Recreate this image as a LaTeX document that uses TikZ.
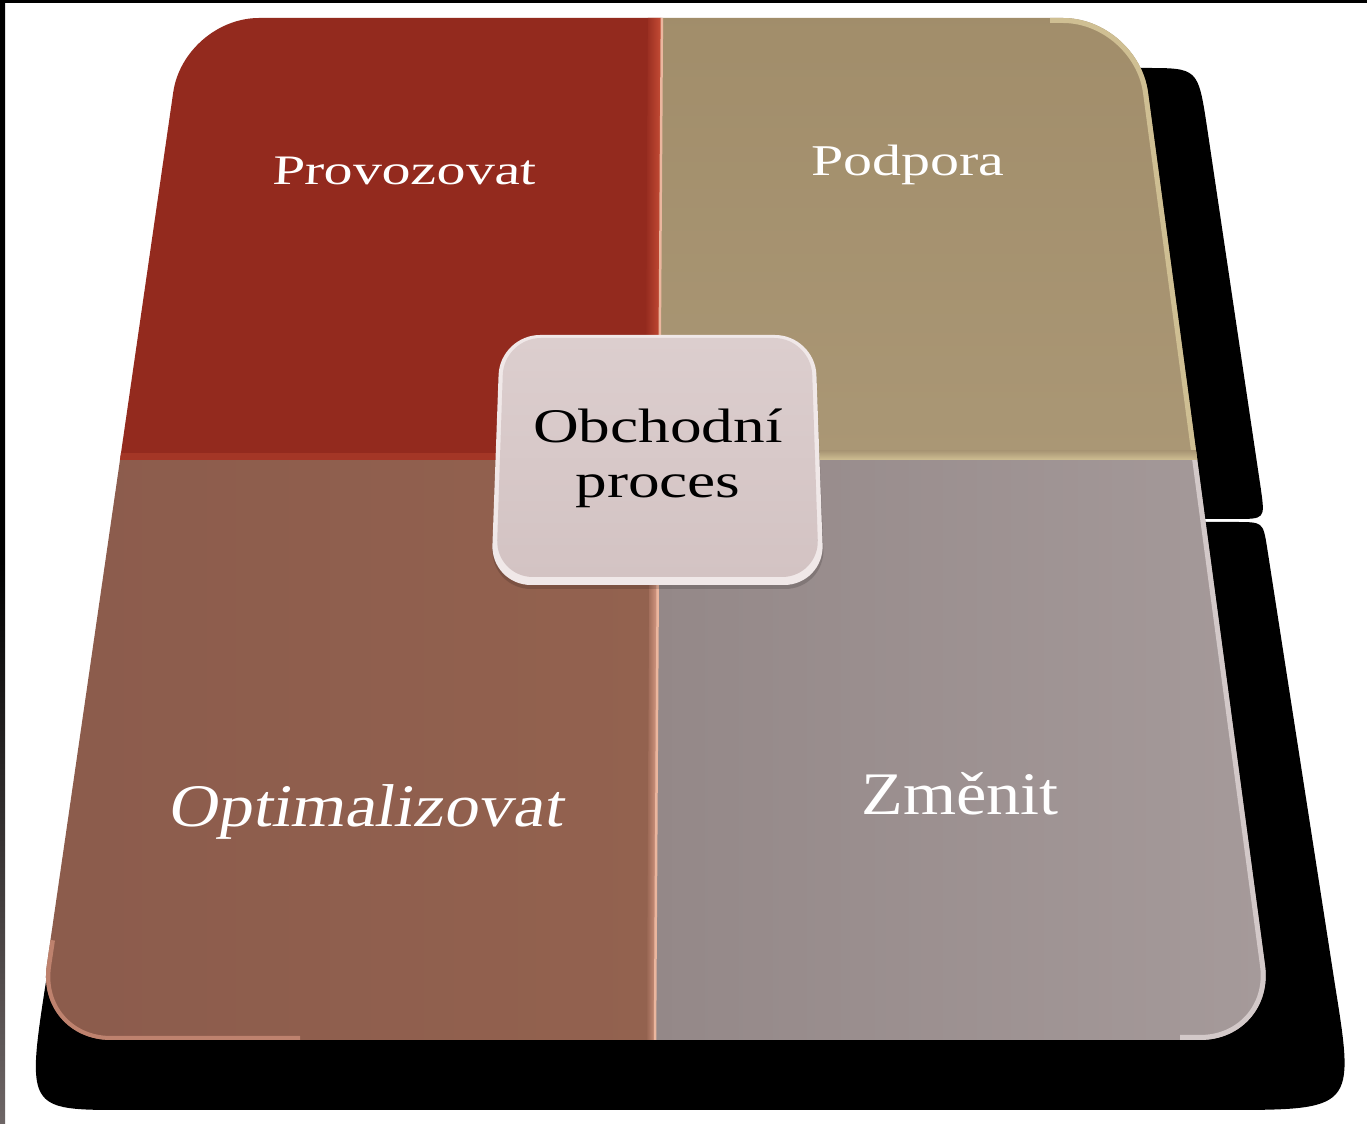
\documentclass[tikz,border=0pt]{standalone}
\usepackage{fontspec}
\setmainfont{Liberation Serif}

\definecolor{edgegray}{HTML}{6E6666}
\definecolor{provred}{HTML}{932A1E}
\definecolor{provbevel}{HTML}{C44C35}
\definecolor{divlight}{HTML}{EBB69E}
\definecolor{podtop}{HTML}{A18D6A}
\definecolor{podbot}{HTML}{AA9775}
\definecolor{podrim}{HTML}{CFBF93}
\definecolor{optleft}{HTML}{8B5B4C}
\definecolor{optright}{HTML}{93624F}
\definecolor{optrim}{HTML}{BE826E}
\definecolor{optbevel}{HTML}{D99C86}
\definecolor{zmenleft}{HTML}{948888}
\definecolor{zmenright}{HTML}{A99E9E}
\definecolor{zmenrim}{HTML}{D3C9C9}
\definecolor{procrim}{HTML}{F0E8E8}
\definecolor{proctop}{HTML}{DCCECE}
\definecolor{procbot}{HTML}{D3C3C3}

\begin{document}
\begin{tikzpicture}[thick]
    \def\U{*0.02cm}
    \tikzset{
      boardclip/.style={rounded corners=1.5cm},
      quadlabel/.style={text=white,anchor=base,transform shape,inner sep=0pt},
    }
    \useasboundingbox (0,0) rectangle (1367\U,-1124\U);
    \fill[white] (0,0) rectangle (1367\U,-1124\U);
    \fill[black] (0,0) rectangle (1367\U,-3\U);
    \shade[top color=black,bottom color=edgegray,middle color=black] (0,0) rectangle (5\U,-1124\U);
    \path
      coordinate (tl) at (184\U,-18\U)
      coordinate (tr) at (1138\U,-18\U)
      coordinate (br) at (1275\U,-1040\U)
      coordinate (bl) at (36\U,-1040\U);
    % stin
    \fill[black] (1000\U,-68\U) -- (1145\U,-68\U) .. controls (1198\U,-68\U) .. (1207\U,-127\U)
      -- (1261\U,-490\U) .. controls (1265\U,-519\U) .. (1235\U,-519\U) -- (1000\U,-519\U) -- cycle;
    \fill[black] (900\U,-522\U) -- (1235\U,-522\U) .. controls (1263\U,-522\U) .. (1267\U,-547\U)
      -- (1335\U,-985\U) .. controls (1355\U,-1110\U) .. (1220\U,-1110\U)
      -- (125\U,-1110\U) .. controls (26\U,-1110\U) .. (47\U,-975\U) -- (113\U,-522\U) -- cycle;
    \begin{scope}
      \clip[boardclip] (tl) -- (tr) -- (br) -- (bl) -- cycle;
      \fill[provred] (0,0) -- (662\U,0) -- (659\U,-460\U) -- (0,-460\U) -- cycle;
      \shade[top color=podtop,bottom color=podbot] (662\U,0) -- (1400\U,0) -- (1400\U,-460\U) -- (659\U,-460\U) -- cycle;
      \shade[left color=optleft,right color=optright] (0,-460\U) -- (659\U,-460\U) -- (654\U,-1124\U) -- (0,-1124\U) -- cycle;
      \shade[left color=zmenleft,right color=zmenright] (659\U,-460\U) -- (1400\U,-460\U) -- (1400\U,-1124\U) -- (654\U,-1124\U) -- cycle;
      % okraje
      \begin{scope}
        \clip (662\U,0) -- (1400\U,0) -- (1400\U,-460\U) -- (659\U,-460\U) -- cycle;
        \draw[line width=10\U,podrim,boardclip] (1050\U,-18\U) -- (tr) -- (br);
      \end{scope}
      \begin{scope}
        \clip (659\U,-460\U) -- (1400\U,-460\U) -- (1400\U,-1124\U) -- (654\U,-1124\U) -- cycle;
        \draw[line width=10\U,zmenrim,boardclip] (tr) -- (br) -- (1180\U,-1040\U);
      \end{scope}
      \begin{scope}
        \clip (0,-460\U) -- (659\U,-460\U) -- (654\U,-1124\U) -- (0,-1124\U) -- cycle;
        \draw[line width=8\U,optrim,boardclip] (300\U,-1040\U) -- (bl) -- (51\U,-940\U);
      \end{scope}
      \fill[provbevel!35!provred] (0,-453\U) rectangle (659\U,-460\U);
      \shade[top color=podbot,bottom color=podrim] (659\U,-451\U) rectangle (1400\U,-460\U);
      \shade[left color=provred,right color=provbevel] (648\U,0) -- (661\U,0) -- (658\U,-460\U) -- (645\U,-460\U) -- cycle;
      \draw[line width=2.5\U,divlight] (662\U,0) -- (659\U,-460\U);
      \shade[left color=optright,right color=optbevel] (650\U,-460\U) -- (658\U,-460\U) -- (654\U,-1124\U) -- (646\U,-1124\U) -- cycle;
      \draw[line width=2.5\U,divlight] (658.5\U,-460\U) -- (654.5\U,-1124\U);
    \end{scope}
    % stredni pole
    \fill[black,opacity=.15,rounded corners=0.8cm] (500\U,-338\U) -- (815\U,-338\U) -- (825\U,-589\U) -- (491\U,-589\U) -- cycle;
    \fill[procrim,rounded corners=0.8cm] (500\U,-335\U) -- (815\U,-335\U) -- (824\U,-585\U) -- (491\U,-585\U) -- cycle;
    \shade[top color=proctop,bottom color=procbot,rounded corners=0.74cm] (504\U,-338\U) -- (811\U,-338\U) -- (819\U,-577\U) -- (496\U,-577\U) -- cycle;
    \node[quadlabel,font=\fontsize{23.9}{28}\selectfont,xscale=1.38,xslant=0.04] (prov) at (404\U,-185\U) {Provozovat};
    \node[quadlabel,font=\fontsize{25}{30}\selectfont,xscale=1.32] (podp) at (908\U,-176\U) {Podpora};
    \node[quadlabel,font=\fontsize{34.4}{40}\selectfont,xscale=1.14,xslant=0.15] (opt) at (365\U,-827\U) {Optimalizovat};
    \node[quadlabel,font=\fontsize{34.4}{40}\selectfont,xscale=1.13] (zmen) at (960\U,-815\U) {Změnit};
    \node[align=center,font=\fontsize{27.5}{31.3}\selectfont,xscale=1.31,transform shape,inner sep=0pt] (proc) at (658\U,-458\U) {Obchodní\\proces};
  \end{tikzpicture}
\end{document}
